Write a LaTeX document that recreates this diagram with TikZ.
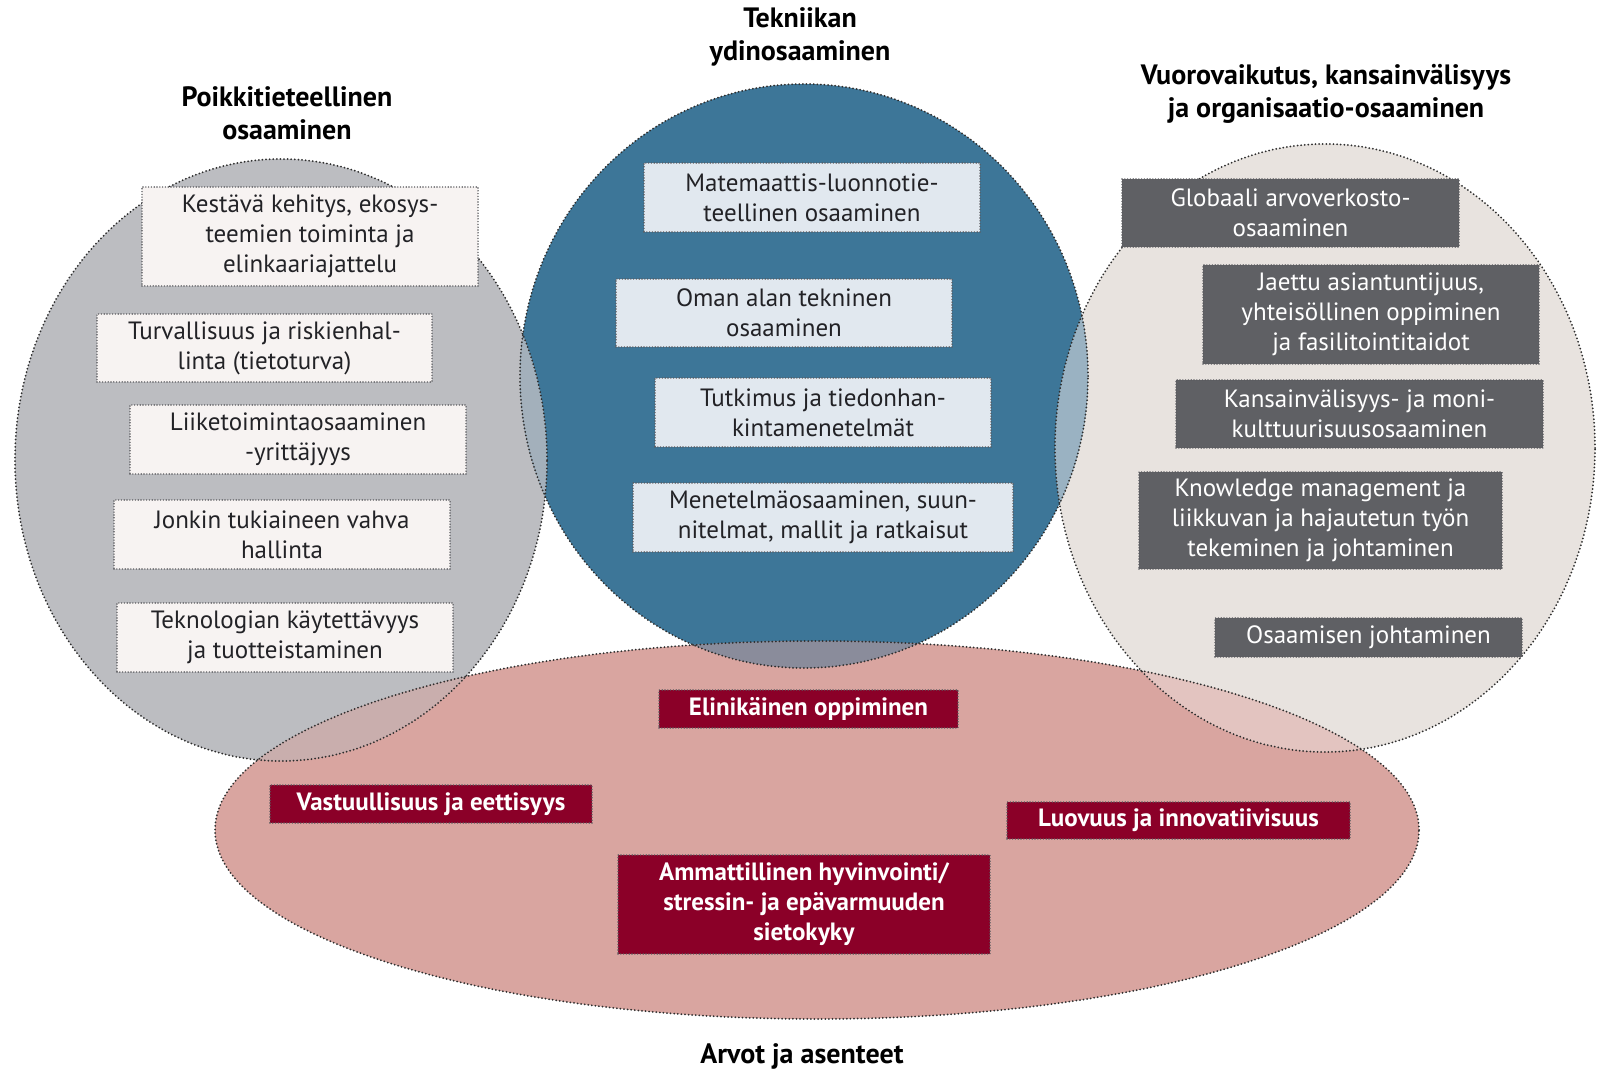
\documentclass[tikz,border=0pt]{standalone}
\usepackage{fontspec}
\setmainfont{PT Sans}
\usepackage{tikz}

\definecolor{grayring}{HTML}{BCBDC1}
\definecolor{bluering}{HTML}{3D7698}
\definecolor{sandring}{HTML}{E8E3DF}
\definecolor{rosering}{HTML}{D9A5A0}
\definecolor{lensgb}{HTML}{A3B0BB}
\definecolor{lensbs}{HTML}{9AB2C2}
\definecolor{lensbr}{HTML}{8A8C9B}
\definecolor{lensgr}{HTML}{C9AEAD}
\definecolor{lenssr}{HTML}{E3C4C0}
\definecolor{ringline}{HTML}{2E2E2E}
\definecolor{boxline}{HTML}{5A5A5E}
\definecolor{paperbox}{HTML}{F7F3F2}
\definecolor{icebox}{HTML}{E1E8EF}
\definecolor{slatebox}{HTML}{5F6064}
\definecolor{wine}{HTML}{8B0028}
\definecolor{inktext}{HTML}{222226}

% the four areas
\newcommand{\areaL}{(281,460) ellipse [x radius=133pt, y radius=150.5pt]}
\newcommand{\areaM}{(804,376) ellipse [x radius=142pt, y radius=146pt]}
\newcommand{\areaR}{(1325,448) ellipse [x radius=135pt, y radius=152pt]}
\newcommand{\areaB}{(817,830) ellipse [x radius=301pt, y radius=94.5pt]}

\tikzset{
  ring/.style={draw=ringline, line width=1pt, dash pattern=on 0pt off 1.8pt, line cap=round},
  sz/.style 2 args={minimum width=#1*0.5pt, minimum height=#2*0.5pt},
  cbox/.style={rectangle, draw=boxline, line width=0.8pt, dash pattern=on 0pt off 1.4pt,
    line cap=round, inner sep=0pt, align=center,
    font=\fontsize{12.5}{15}\selectfont},
  lbox/.style={cbox, fill=paperbox, text=inktext},
  mbox/.style={cbox, fill=icebox, text=inktext},
  rbox/.style={cbox, fill=slatebox, text=white},
  bbox/.style={cbox, fill=wine, text=white, font=\fontsize{12.5}{15}\selectfont\bfseries},
  head/.style={align=center, text=black, font=\fontsize{14}{16.5}\selectfont\bfseries}
}

\begin{document}
\begin{tikzpicture}[x=0.5pt,y=-0.5pt]
  \useasboundingbox (0,0) rectangle (1612,1069);

  % areas
  \fill[grayring] \areaL;
  \fill[sandring] \areaR;
  \fill[bluering] \areaM;
  \fill[rosering] \areaB;

  % overlaps
  \foreach \p/\q/\c in {\areaL/\areaM/lensgb, \areaM/\areaR/lensbs, \areaM/\areaB/lensbr,
    \areaL/\areaB/lensgr, \areaR/\areaB/lenssr}{
    \begin{scope}
      \clip \p;
      \fill[\c] \q;
    \end{scope}
  }

  % outlines
  \foreach \p in {\areaL, \areaR, \areaM, \areaB}{
    \draw[ring] \p;
  }

  % left area
  \node[lbox,sz={336}{99}] (kestava) at (310,236.5) {Kestävä kehitys, ekosys-\\teemien toiminta ja\\elinkaariajattelu};
  \node[lbox,sz={335}{68}] (turva) at (264.5,348) {Turvallisuus ja riskienhal-\\linta (tietoturva)};
  \node[lbox,sz={336}{69}] (liike) at (298,439.5) {Liiketoimintaosaaminen\\-yrittäjyys};
  \node[lbox,sz={336}{69}] (tukiaine) at (282,534.5) {Jonkin tukiaineen vahva\\hallinta};
  \node[lbox,sz={336}{69}] (kaytto) at (285,637.5) {Teknologian käytettävyys\\ja tuotteistaminen};

  % middle area
  \node[mbox,sz={336}{69}] (matlu) at (812,197.5) {Matemaattis-luonnotie-\\teellinen osaaminen};
  \node[mbox,sz={336}{68}] (omaala) at (784,313) {Oman alan tekninen\\osaaminen};
  \node[mbox,sz={336}{69}] (tutkimus) at (823,412.5) {Tutkimus ja tiedonhan-\\kintamenetelmät};
  \node[mbox,sz={380}{69}] (menetelma) at (823,517.5) {Menetelmäosaaminen, suun-\\nitelmat, mallit ja ratkaisut};

  % right area
  \node[rbox,sz={337}{68}] (globaali) at (1290.5,213) {Globaali arvoverkosto-\\osaaminen};
  \node[rbox,sz={336}{99}] (jaettu) at (1371,314.5) {Jaettu asiantuntijuus,\\yhteisöllinen oppiminen\\ja fasilitointitaidot};
  \node[rbox,sz={367}{68}] (moniku) at (1359.5,414) {Kansainvälisyys- ja moni-\\kulttuurisuusosaaminen};
  \node[rbox,sz={363}{97}] (knowledge) at (1320.5,520.5) {Knowledge management ja\\liikkuvan ja hajautetun työn\\tekeminen ja johtaminen};
  \node[rbox,sz={307}{39}] (johtaminen) at (1368.5,637.5) {Osaamisen johtaminen};

  % bottom area
  \node[bbox,sz={299}{38}] (elinik) at (808.5,709) {Elinikäinen oppiminen};
  \node[bbox,sz={322}{38}] (vastuu) at (431,804) {Vastuullisuus ja eettisyys};
  \node[bbox,sz={343}{37}] (luovuus) at (1178.5,820.5) {Luovuus ja innovatiivisuus};
  \node[bbox,sz={372}{99}] (hyvinvointi) at (804,904.5) {Ammattillinen hyvinvointi/\\stressin- ja epävarmuuden\\sietokyky};

  % headings
  \node[head] (poikki) at (287,113.5) {Poikkitieteellinen\\osaaminen};
  \node[head] (tekniikka) at (800,37) {Tekniikan\\ydinosaaminen};
  \node[head] (vuoro) at (1326,94) {Vuorovaikutus, kansainvälisyys\\ja organisaatio-osaaminen};
  \node[head] (arvot) at (802,1056) {Arvot ja asenteet};
\end{tikzpicture}
\end{document}
